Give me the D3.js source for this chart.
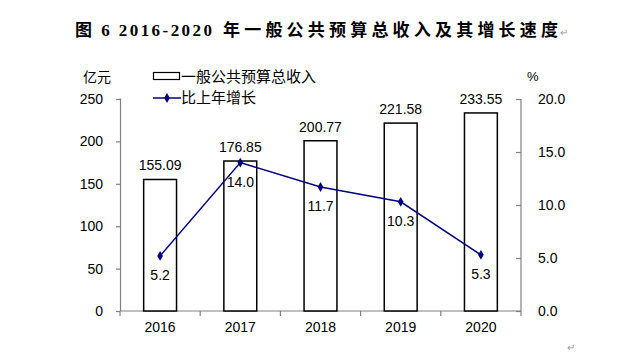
<!DOCTYPE html>
<html>
<head>
<meta charset="utf-8">
<script src="https://cdn.jsdelivr.net/npm/d3@7"></script>
<style>
  body { margin: 0; background: #fff; }
  svg { display: block; }
</style>
</head>
<body>
<div id="chart"></div>
<script>
const years = ["2016", "2017", "2018", "2019", "2020"];
const revenue = [155.09, 176.85, 200.77, 221.58, 233.55];
const growth = [5.2, 14.0, 11.7, 10.3, 5.3];
const leftTicks = [0, 50, 100, 150, 200, 250];
const rightTicks = [0, 5, 10, 15, 20];

const width = 628, height = 354;
const margin = { left: 120, right: 107, top: 99, bottom: 43 };
const innerWidth = width - margin.left - margin.right;
const innerHeight = height - margin.top - margin.bottom;

const numFont = "'Liberation Sans', Arial, sans-serif";
const cjkFont = "'Noto Sans CJK SC', sans-serif";
const lineColor = "#000080";
const axisColor = "#808080";

const svg = d3.select("#chart")
  .append("svg")
  .attr("width", width)
  .attr("height", height)
  .attr("viewBox", [0, 0, width, height]);

// Title
svg.append("text")
  .attr("x", 75)
  .attr("y", 36)
  .attr("textLength", 137)
  .attr("lengthAdjust", "spacing")
  .style("font-family", "'Liberation Serif', " + cjkFont)
  .style("font-weight", "bold")
  .style("font-size", "17px")
  .text("图 6 2016-2020");

svg.append("text")
  .attr("x", 223)
  .attr("y", 36)
  .attr("textLength", 335)
  .attr("lengthAdjust", "spacing")
  .style("font-family", cjkFont)
  .style("font-weight", "bold")
  .style("font-size", "17px")
  .text("年一般公共预算总收入及其增长速度");

svg.append("text")
  .attr("x", 560)
  .attr("y", 36)
  .style("font-family", numFont)
  .style("font-size", "10px")
  .attr("fill", "#999")
  .text("↵");

svg.append("text")
  .attr("x", 567)
  .attr("y", 351)
  .style("font-family", numFont)
  .style("font-size", "10px")
  .attr("fill", "#999")
  .text("↵");

const chart = svg.append("g")
  .attr("transform", `translate(${margin.left}, ${margin.top})`);

// Scales
const x = d3.scaleBand()
  .domain(years)
  .range([0, innerWidth])
  .paddingInner(0.59)
  .paddingOuter(0.295);

const xPoint = d3.scalePoint()
  .domain(years)
  .range([0, innerWidth])
  .padding(0.5);

const yLeft = d3.scaleLinear().domain([0, 250]).range([innerHeight, 0]);
const yRight = d3.scaleLinear().domain([0, 20]).range([innerHeight, 0]);

// Axes
const leftAxis = d3.axisLeft(yLeft)
  .tickValues(leftTicks)
  .tickSize(4)
  .tickPadding(13)
  .tickFormat(d3.format("d"));

const rightAxis = d3.axisRight(yRight)
  .tickValues(rightTicks)
  .tickSize(-5)
  .tickPadding(17)
  .tickFormat(d3.format(".1f"));

const gLeft = chart.append("g").call(leftAxis);
const gRight = chart.append("g")
  .attr("transform", `translate(${innerWidth}, 0)`)
  .call(rightAxis);

[gLeft, gRight].forEach(g => {
  g.select(".domain").attr("stroke", axisColor).attr("stroke-width", 1.2);
  g.selectAll(".tick line").attr("stroke", axisColor).attr("stroke-width", 1.2);
  g.selectAll(".tick text")
    .style("font-family", numFont)
    .style("font-size", "14px")
    .attr("fill", "#000");
});
gLeft.select(".domain").attr("d", `M-0.5,0H0.5V${innerHeight}`);
gRight.select(".domain").attr("d", `M0,0V${innerHeight}`);

// Bottom axis with ticks at category boundaries
const gBottom = chart.append("g")
  .attr("transform", `translate(0, ${innerHeight})`);

gBottom.append("line")
  .attr("x1", 0).attr("x2", innerWidth)
  .attr("stroke", axisColor).attr("stroke-width", 1.2);

const step = innerWidth / years.length;
gBottom.selectAll(".btick")
  .data(d3.range(years.length + 1))
  .join("line")
  .attr("class", "btick")
  .attr("x1", i => i * step).attr("x2", i => i * step)
  .attr("y1", 0).attr("y2", 5)
  .attr("stroke", axisColor).attr("stroke-width", 1.2);

gBottom.selectAll(".blabel")
  .data(years)
  .join("text")
  .attr("class", "blabel")
  .attr("x", d => xPoint(d))
  .attr("y", 21)
  .attr("text-anchor", "middle")
  .style("font-family", numFont)
  .style("font-size", "14px")
  .text(d => d);

// Bars
chart.selectAll(".bar")
  .data(revenue)
  .join("rect")
  .attr("class", "bar")
  .attr("x", (d, i) => x(years[i]))
  .attr("y", d => yLeft(d))
  .attr("width", x.bandwidth())
  .attr("height", d => innerHeight - yLeft(d))
  .attr("fill", "#fff")
  .attr("stroke", "#000")
  .attr("stroke-width", 1.5);

chart.selectAll(".bar-label")
  .data(revenue)
  .join("text")
  .attr("class", "bar-label")
  .attr("x", (d, i) => xPoint(years[i]))
  .attr("y", d => yLeft(d) - 9)
  .attr("text-anchor", "middle")
  .style("font-family", numFont)
  .style("font-size", "14px")
  .text(d => d.toFixed(2));

// Growth line
const line = d3.line()
  .x((d, i) => xPoint(years[i]))
  .y(d => yRight(d));

chart.append("path")
  .datum(growth)
  .attr("d", line)
  .attr("fill", "none")
  .attr("stroke", lineColor)
  .attr("stroke-width", 1.5);

const diamond = d3.symbol().type(d3.symbolDiamond).size(28);

chart.selectAll(".marker")
  .data(growth)
  .join("path")
  .attr("class", "marker")
  .attr("d", diamond)
  .attr("transform", (d, i) => `translate(${xPoint(years[i])}, ${yRight(d)})`)
  .attr("fill", lineColor);

chart.selectAll(".growth-label")
  .data(growth)
  .join("text")
  .attr("class", "growth-label")
  .attr("x", (d, i) => xPoint(years[i]))
  .attr("y", d => yRight(d) + 24)
  .attr("text-anchor", "middle")
  .style("font-family", numFont)
  .style("font-size", "14px")
  .text(d => d.toFixed(1));

// Axis units
svg.append("text")
  .attr("x", 83)
  .attr("y", 82)
  .style("font-family", cjkFont)
  .style("font-size", "14px")
  .text("亿元");

svg.append("text")
  .attr("x", 527)
  .attr("y", 81)
  .style("font-family", numFont)
  .style("font-size", "13px")
  .text("%");

// Legend
const legend = svg.append("g");

legend.append("rect")
  .attr("x", 153.5).attr("y", 72.5)
  .attr("width", 26).attr("height", 7)
  .attr("fill", "#fff")
  .attr("stroke", "#000")
  .attr("stroke-width", 1.2);

legend.append("text")
  .attr("x", 181)
  .attr("y", 82)
  .style("font-family", cjkFont)
  .style("font-size", "15px")
  .text("一般公共预算总收入");

legend.append("line")
  .attr("x1", 153).attr("x2", 181)
  .attr("y1", 98).attr("y2", 98)
  .attr("stroke", lineColor)
  .attr("stroke-width", 1.5);

legend.append("path")
  .attr("d", diamond)
  .attr("transform", "translate(167, 98)")
  .attr("fill", lineColor);

legend.append("text")
  .attr("x", 181)
  .attr("y", 103)
  .style("font-family", cjkFont)
  .style("font-size", "15px")
  .text("比上年增长");
</script>
</body>
</html>
